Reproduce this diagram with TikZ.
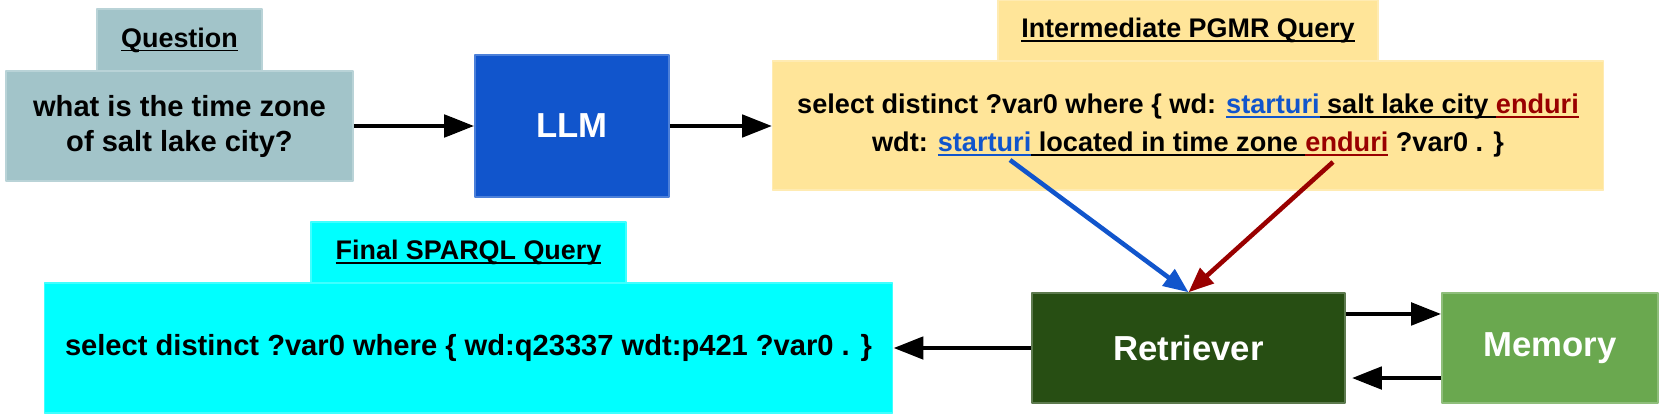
\documentclass[tikz,border=0pt]{standalone}
\usepackage{fontspec}
\setmainfont{Liberation Sans}
\usetikzlibrary{arrows.meta}
\definecolor{qcol}{HTML}{A2C4C9}
\definecolor{llmcol}{HTML}{1155CC}
\definecolor{pgmrcol}{HTML}{FFE599}
\definecolor{finalcol}{HTML}{00FFFF}
\definecolor{retcol}{HTML}{274E13}
\definecolor{memcol}{HTML}{6AA84F}
\definecolor{startcol}{HTML}{1155CC}
\definecolor{endcol}{HTML}{990000}
\newcommand{\undl}[1]{\setbox0\hbox{#1}\rlap{\rule[-1.25pt]{\wd0}{0.55pt}}\box0}
\begin{document}
\begin{tikzpicture}[x=0.01cm, y=-0.01cm, line join=round,
  tile/.style={fill=#1, draw=#1!75!white, line width=0.4pt, inner sep=0pt},
  tab/.style={font=\fontsize{7.65}{9}\selectfont\bfseries},
  txt/.style={align=center, font=\fontsize{8.28}{9.96}\selectfont\bfseries},
  big/.style={text=white, font=\fontsize{9.87}{11}\selectfont\bfseries},
  flow/.style={line width=1.4pt, -{Triangle[length=0.3cm,width=0.22cm]}},
  link/.style={line width=1.3pt, -{Triangle[length=0.25cm,width=0.2cm]}}]
\useasboundingbox (0,0) rectangle (1661,415);
% question
\node[tile=qcol, tab, minimum width=1.65cm, minimum height=0.62cm] (qtab) at (179.5,40) {\undl{Question}};
\node[tile=qcol, txt, minimum width=3.47cm, minimum height=1.1cm] (qbody) at (179.5,126) {what is the time zone\\of salt lake city?};
\node[tile=llmcol, big, minimum width=1.94cm, minimum height=1.42cm] (llm) at (572,126) {LLM};
% intermediate query
\node[tile=pgmrcol, tab, minimum width=3.8cm, minimum height=0.61cm] (ptab) at (1188,30.5) {\undl{Intermediate PGMR Query}};
\node[tile=pgmrcol, txt, font=\fontsize{7.71}{10.7}\selectfont\bfseries, minimum width=8.3cm, minimum height=1.29cm] (pbody) at (1188,125.5) {select distinct ?var0 where \{ wd: {\color{startcol}\undl{starturi}}\undl{ salt lake city }{\color{endcol}\undl{enduri}}\\
wdt: {\color{startcol}\undl{starturi}}\undl{ located in time zone }{\color{endcol}\undl{enduri}} ?var0 . \}};
% final query
\node[tile=finalcol, tab, minimum width=3.15cm, minimum height=0.61cm] (ftab) at (468.5,252.5) {\undl{Final SPARQL Query}};
\node[tile=finalcol, txt, minimum width=8.48cm, minimum height=1.3cm] (fbody) at (468.5,348) {select distinct ?var0 where \{ wd:q23337 wdt:p421 ?var0 . \}};
\node[tile=retcol, big, minimum width=3.13cm, minimum height=1.1cm] (ret) at (1188.5,348) {Retriever};
\node[tile=memcol, big, minimum width=2.16cm, minimum height=1.1cm] (mem) at (1550,348) {Memory};
\coordinate (s) at (1010,160);
\coordinate (e) at (1333,162);
\path ([yshift=0.34cm]ret.east) coordinate (r1) ([yshift=-0.3cm]mem.west) coordinate (m1);
% arrows
\draw[flow] (qbody.east) -- (qbody.east -| llm.west);
\draw[flow] (llm.east) -- (llm.east -| pbody.west);
\draw[flow] (ret.west) -- (ret.west -| fbody.east);
\draw[flow] (r1) -- (r1 -| mem.west);
\draw[flow, shorten >=0.06cm] (m1) -- (m1 -| ret.east);
\draw[link, startcol] (s) -- (ret.north);
\draw[link, endcol] (e) -- (ret.north);
\end{tikzpicture}
\end{document}
